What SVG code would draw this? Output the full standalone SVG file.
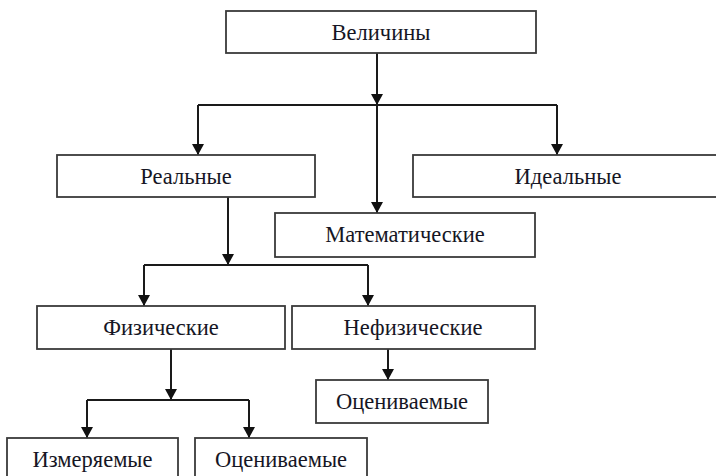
<svg xmlns="http://www.w3.org/2000/svg" width="716" height="476" viewBox="0 0 716 476">
<defs>
<style>
.box{fill:#fff;stroke:#3a3a3a;stroke-width:1.8}
.lbl{font-family:"Liberation Serif","Times New Roman",serif;font-size:22.5px;fill:#161624;text-anchor:middle}
.ln{fill:none;stroke:#1a1a1a;stroke-width:2}
.arr{marker-end:url(#ah)}
</style>
<marker id="ah" viewBox="0 0 12 12" refX="11" refY="6" markerWidth="12" markerHeight="12" markerUnits="userSpaceOnUse" orient="auto">
<path d="M0,0 L11,6 L0,12 z" fill="#111"/>
</marker>
</defs>
<rect width="716" height="476" fill="#fff"/>
<g id="connectors">
<path class="ln arr" d="M377,53 V105"/>
<path class="ln" d="M198,105 H557"/>
<path class="ln arr" d="M198,105 V155"/>
<path class="ln arr" d="M377,105 V213"/>
<path class="ln arr" d="M557,105 V155"/>
<path class="ln arr" d="M228,197 V265"/>
<path class="ln" d="M144,265 H368"/>
<path class="ln arr" d="M144,265 V306"/>
<path class="ln arr" d="M368,265 V306"/>
<path class="ln arr" d="M171,349 V400"/>
<path class="ln" d="M87,400 H249"/>
<path class="ln arr" d="M87,400 V438"/>
<path class="ln arr" d="M249,400 V438"/>
<path class="ln arr" d="M388,349 V380"/>
</g>
<g id="n-velichiny"><rect class="box" x="226" y="11" width="310" height="42"/><text class="lbl" x="381" y="40">Величины</text></g>
<g id="n-realnye"><rect class="box" x="57" y="155" width="258" height="42"/><text class="lbl" x="186" y="184">Реальные</text></g>
<g id="n-idealnye"><rect class="box" x="413" y="155" width="310" height="42"/><text class="lbl" x="568" y="184">Идеальные</text></g>
<g id="n-matematicheskie"><rect class="box" x="275" y="213" width="260" height="44"/><text class="lbl" x="405" y="242">Математические</text></g>
<g id="n-fizicheskie"><rect class="box" x="37" y="306" width="248" height="43"/><text class="lbl" x="161" y="335">Физические</text></g>
<g id="n-nefizicheskie"><rect class="box" x="292" y="306" width="243" height="43"/><text class="lbl" x="413" y="335">Нефизические</text></g>
<g id="n-otsenivaemye2"><rect class="box" x="316" y="380" width="172" height="43"/><text class="lbl" x="402" y="409">Оцениваемые</text></g>
<g id="n-izmeryaemye"><rect class="box" x="7" y="438" width="171" height="50"/><text class="lbl" x="92.5" y="467">Измеряемые</text></g>
<g id="n-otsenivaemye1"><rect class="box" x="195" y="438" width="172" height="50"/><text class="lbl" x="281" y="467">Оцениваемые</text></g>
</svg>
